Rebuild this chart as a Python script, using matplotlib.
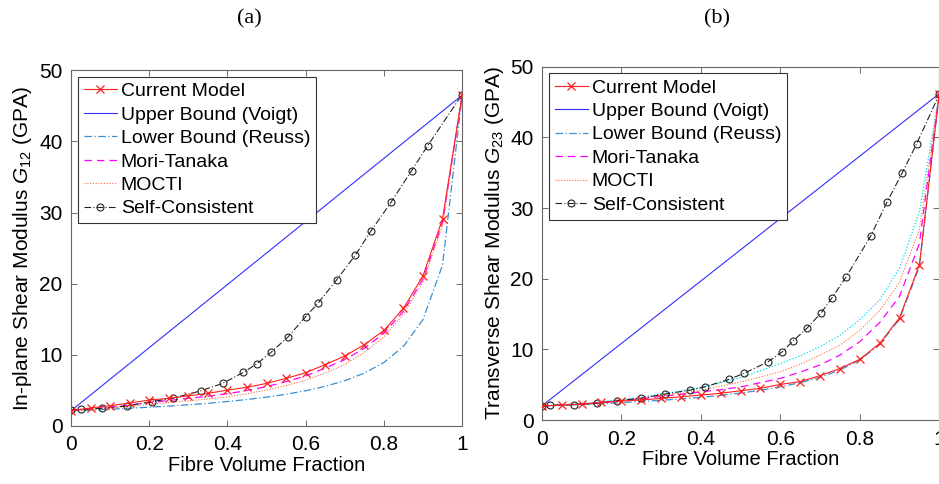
import matplotlib
matplotlib.use("Agg")
import matplotlib.pyplot as plt

plt.rcParams['font.family'] = ['Liberation Sans', 'DejaVu Sans']
plt.rcParams['mathtext.fontset'] = 'custom'
plt.rcParams['mathtext.it'] = 'Liberation Sans:italic'
plt.rcParams['mathtext.rm'] = 'Liberation Sans'

# fibre volume fraction grid used by most curves
vf = [0.0, 0.05, 0.1, 0.15, 0.2, 0.25, 0.3, 0.35, 0.4, 0.45, 0.5,
      0.55, 0.6, 0.65, 0.7, 0.75, 0.8, 0.85, 0.9, 0.95, 1.0]

# ---- (a) in-plane shear modulus G12 ----
g12_current = [2.1, 2.5, 2.8, 3.2, 3.6, 3.85, 4.2, 4.55, 5.0, 5.4, 5.95,
               6.65, 7.45, 8.6, 9.8, 11.4, 13.4, 16.5, 21.1, 29.1, 46.5]
g12_voigt_x = [0.0, 1.0]
g12_voigt = [2.1, 46.5]
g12_reuss = [2.1, 2.2, 2.32, 2.45, 2.6, 2.76, 2.94, 3.15, 3.4, 3.68, 4.02,
             4.42, 4.92, 5.54, 6.33, 7.4, 8.89, 11.15, 14.93, 22.6, 46.5]
g12_mt = [2.1, 2.35, 2.6, 2.9, 3.25, 3.55, 3.85, 4.15, 4.5, 4.95, 5.5,
          6.2, 7.0, 8.1, 9.3, 10.9, 13.0, 16.1, 20.6, 28.6, 46.5]
g12_mocti = [2.1, 2.3, 2.5, 2.75, 3.0, 3.25, 3.5, 3.75, 4.05, 4.5, 5.0,
             5.65, 6.4, 7.4, 8.6, 10.3, 12.5, 15.7, 20.2, 28.2, 46.5]
g12_sc_x = [0.0, 0.026, 0.08, 0.142, 0.208, 0.26, 0.332, 0.388, 0.441, 0.475,
            0.511, 0.555, 0.6, 0.631, 0.679, 0.727, 0.767, 0.819, 0.871,
            0.912, 1.0]
g12_sc = [2.2, 2.3, 2.45, 2.77, 3.4, 3.85, 4.9, 5.96, 7.5, 8.7, 10.3, 12.5,
          15.35, 17.2, 20.5, 24.0, 27.4, 31.5, 35.9, 39.4, 46.6]

# ---- (b) transverse shear modulus G23 ----
g23_current = [2.0, 2.12, 2.26, 2.5, 2.7, 2.85, 3.07, 3.3, 3.54, 3.8, 4.15,
               4.5, 5.05, 5.45, 6.3, 7.3, 8.6, 10.85, 14.5, 22.0, 46.2]
g23_voigt_x = [0.0, 1.0]
g23_voigt = [2.0, 46.2]
g23_reuss = [2.0, 2.1, 2.2, 2.33, 2.48, 2.63, 2.8, 3.0, 3.23, 3.5, 3.83,
             4.22, 4.7, 5.3, 6.05, 7.1, 8.5, 10.7, 14.3, 21.7, 46.2]
g23_mt = [2.0, 2.13, 2.3, 2.5, 2.75, 3.0, 3.35, 3.65, 4.0, 4.3, 4.7,
          5.3, 5.9, 6.8, 7.8, 9.2, 11.1, 13.8, 17.5, 25.0, 46.2]
g23_mocti = [2.0, 2.15, 2.33, 2.55, 2.8, 3.1, 3.5, 3.8, 4.2, 4.8, 5.4,
             6.1, 6.85, 7.9, 9.2, 10.6, 12.7, 15.5, 19.5, 27.0, 46.2]
g23_cyan = [2.0, 2.15, 2.35, 2.6, 2.9, 3.25, 3.7, 4.1, 4.6, 5.3, 6.0,
            7.0, 8.0, 9.1, 10.4, 12.0, 14.2, 17.0, 21.5, 29.5, 46.2]
g23_sc_x = [0.0, 0.02, 0.081, 0.14, 0.189, 0.25, 0.311, 0.374, 0.41, 0.47,
            0.508, 0.569, 0.605, 0.632, 0.667, 0.703, 0.73, 0.766, 0.827,
            0.868, 0.906, 0.943, 1.0]
g23_sc = [2.0, 2.08, 2.2, 2.36, 2.74, 3.1, 3.7, 4.25, 4.7, 5.75, 6.6, 8.25,
          9.67, 11.2, 13.0, 15.2, 17.3, 20.3, 26.0, 30.8, 34.9, 39.1, 46.1]

labels = ['Current Model', 'Upper Bound (Voigt)', 'Lower Bound (Reuss)',
          'Mori-Tanaka', 'MOCTI', 'Self-Consistent']

RED = '#ff2020'
BLUE = '#3030ff'
LBLUE = '#3a90d0'
MAG = '#ff00ff'
ORANGE = '#ff6a3d'
BLACK = '#222222'
CYAN = '#00e0f0'

fig = plt.figure(figsize=(9.39, 4.84), dpi=100)
ax1 = fig.add_axes([0.0756, 0.1205, 0.4165, 0.734])
ax2 = fig.add_axes([0.577, 0.132, 0.4233, 0.730])


def draw(ax, cur, vx, vy, reuss, mt, mocti, scx, scy, cyan=None):
    ax.plot(vf, cur, color=RED, lw=0.8, marker='x', ms=6, mew=0.9,
            label=labels[0], zorder=6)
    ax.plot(vx, vy, color=BLUE, lw=0.8, label=labels[1])
    ax.plot(vf, reuss, color=LBLUE, lw=0.9, ls=(0, (6, 2, 1, 2)),
            label=labels[2])
    if cyan is not None:
        ax.plot(vf, cyan, color=CYAN, lw=0.9, ls=(0, (1, 1.5)))
    ax.plot(vf, mt, color=MAG, lw=0.9, ls=(0, (6, 4)), label=labels[3])
    ax.plot(vf, mocti, color=ORANGE, lw=0.8, ls=(0, (1, 1.5)),
            label=labels[4])
    ax.plot(scx, scy, color=BLACK, lw=0.8, ls=(0, (6, 2, 1, 2)),
            marker='o', ms=5, mfc='none', mew=0.8, label=labels[5])
    ax.set_xlim(0, 1)
    ax.set_ylim(0, 50)
    ax.set_xticks([0, 0.2, 0.4, 0.6, 0.8, 1])
    ax.set_xticklabels(['0', '0.2', '0.4', '0.6', '0.8', '1'])
    ax.set_yticks([0, 10, 20, 30, 40, 50])
    ax.tick_params(direction='in', top=True, right=True, labelsize=15,
                   length=4, width=0.6, color='#555555')
    ax.tick_params(axis='x', pad=7)
    ax.tick_params(axis='y', pad=6)
    for s in ax.spines.values():
        s.set_color('#666666')
        s.set_linewidth(0.8)
    ax.set_xlabel('Fibre Volume Fraction', fontsize=14.5, labelpad=1)
    leg = ax.legend(loc='upper left', bbox_to_anchor=(0.018, 0.982),
                    borderaxespad=0, fontsize=14, fancybox=False,
                    framealpha=1, edgecolor='#333333', handlelength=1.7,
                    handletextpad=0.2, labelspacing=0.3, borderpad=0.3)
    leg.get_frame().set_linewidth(0.8)


draw(ax1, g12_current, g12_voigt_x, g12_voigt, g12_reuss, g12_mt, g12_mocti,
     g12_sc_x, g12_sc)
draw(ax2, g23_current, g23_voigt_x, g23_voigt, g23_reuss, g23_mt, g23_mocti,
     g23_sc_x, g23_sc, cyan=g23_cyan)

ax1.set_ylabel(r'In-plane Shear Modulus $\mathit{G}_{\mathit{12}}$ (GPA)',
               fontsize=15, labelpad=4)
ax2.set_ylabel(r'Transverse Shear Modulus $\mathit{G}_{\mathit{23}}$ (GPA)',
               fontsize=15, labelpad=3)

fig.text(0.266, 0.962, '(a)', family='Liberation Serif', fontsize=16,
         ha='center', va='center')
fig.text(0.764, 0.962, '(b)', family='Liberation Serif', fontsize=16,
         ha='center', va='center')

fig.savefig('out.png', dpi=100)
